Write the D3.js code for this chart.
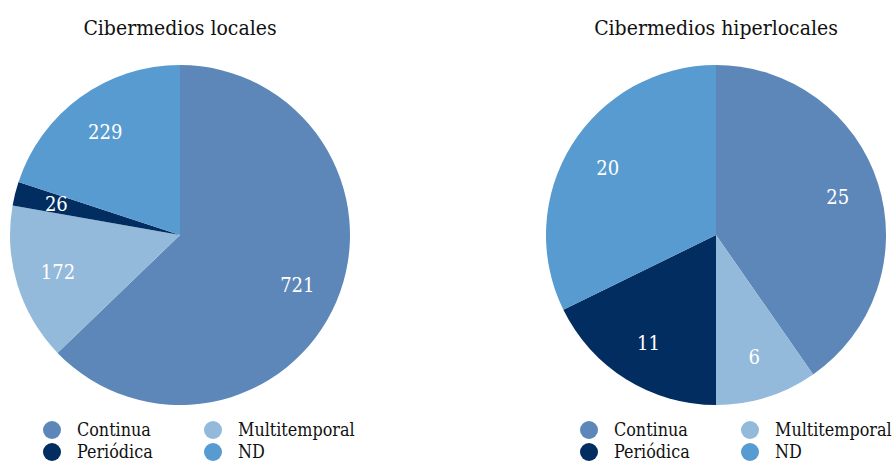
<!DOCTYPE html>
<html><head><meta charset="utf-8">
<script src="https://cdn.jsdelivr.net/npm/d3@7"></script>
<style>body{margin:0;background:#fff}</style>
</head><body>
<svg id="c" width="892" height="462"></svg>
<script>
const categories = ["Continua","Multitemporal","Periódica","ND"];
const titles = ["Cibermedios locales","Cibermedios hiperlocales"];
const localValues = [721,172,26,229];
const hiperValues = [25,6,11,20];
const colors = ["#5d87b9","#93b9db","#022d61","#589bd0"];
const legendOrder = ["Continua","Multitemporal","Periódica","ND"];

const FONT = "'DejaVu Serif', serif";
const svg = d3.select("#c").style("font-family", FONT).style("font-stretch", "condensed");
const color = d3.scaleOrdinal().domain(categories).range(colors);
const R = 170;
const charts = [
  {title: titles[0], values: localValues, cx: 180, legendX: 52},
  {title: titles[1], values: hiperValues, cx: 716, legendX: 589}
];
const pie = d3.pie().sort(null).value(d => d.v);
const arc = d3.arc().innerRadius(0).outerRadius(R);
const labelArc = d3.arc().innerRadius(R*0.75).outerRadius(R*0.75);

charts.forEach(ch => {
  const data = categories.map((c,i) => ({c, v: ch.values[i]}));
  const g = svg.append("g").attr("transform", `translate(${ch.cx},235)`);
  const arcs = pie(data);
  g.selectAll("path").data(arcs).join("path")
    .attr("d", arc).attr("fill", d => color(d.data.c));
  g.selectAll("text.l").data(arcs).join("text").attr("class","l")
    .attr("transform", d => `translate(${labelArc.centroid(d)})`)
    .attr("text-anchor","middle").attr("dy","0.35em")
    .attr("fill","#fff").attr("font-size",20)
    .text(d => d.data.v);
  svg.append("text").attr("x", ch.cx).attr("y", 35)
    .attr("text-anchor","middle").attr("font-size",21).attr("fill","#111")
    .text(ch.title);
  const lg = svg.append("g");
  legendOrder.forEach((c,i) => {
    const col = i % 2, row = Math.floor(i/2);
    const x = ch.legendX + col*161, y = 430 + row*22;
    lg.append("circle").attr("cx", x).attr("cy", y).attr("r", 9).attr("fill", color(c));
    lg.append("text").attr("x", x+25).attr("y", y).attr("dy","0.35em")
      .attr("font-size",17.8).attr("fill","#111").text(c);
  });
});
</script>
</body></html>
